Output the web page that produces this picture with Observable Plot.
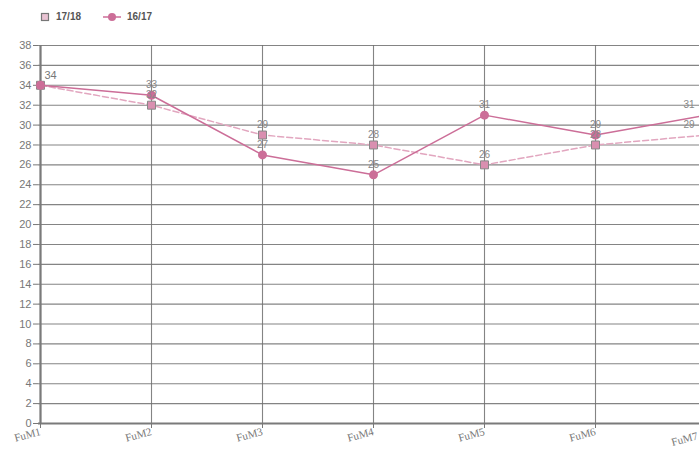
<!DOCTYPE html>
<html><head><meta charset="utf-8">
<script src="https://cdn.jsdelivr.net/npm/d3@7"></script>
<script src="https://cdn.jsdelivr.net/npm/@observablehq/plot@0.6"></script>
<style>
html,body{margin:0;padding:0;background:#fff;overflow:hidden;width:699px;height:450px;}
#legend{height:34px;position:relative;font-family:"Liberation Sans",Arial,sans-serif;font-size:10px;font-weight:bold;color:#555;}
#legend .item{position:absolute;top:11px;display:flex;align-items:center;gap:6px;}
#chart svg{max-width:none !important;}
</style></head>
<body>
<div id="legend"></div>
<div id="chart"></div>
<script>
const categories = ["FuM1","FuM2","FuM3","FuM4","FuM5","FuM6","FuM7"];
const series1718 = [34,32,29,28,26,28,29];
const series1617 = [34,33,27,25,31,29,31];
const seriesNames = ["17/18","16/17"];
const yTicks = d3.range(0, 39, 2);

const colors = {"17/18":"#e2a6bf","16/17":"#cc6e98"};
const lastCat = categories[categories.length - 1];

const rows = [];
categories.forEach((c,i)=>{
  rows.push({cat:c, value:series1718[i], series:"17/18"});
  rows.push({cat:c, value:series1617[i], series:"16/17"});
});
const r1718 = rows.filter(d=>d.series==="17/18");
const r1617 = rows.filter(d=>d.series==="16/17");

// legend
const leg = document.getElementById("legend");
leg.innerHTML = `
<div class="item" style="left:40px"><svg width="10" height="10"><rect x="1.5" y="1.5" width="7" height="7" fill="#e9c3d3" stroke="#777" stroke-width="1.2"/></svg><span>${seriesNames[0]}</span></div>
<div class="item" style="left:103px"><svg width="18" height="10"><line x1="0" y1="5" x2="18" y2="5" stroke="${colors["16/17"]}" stroke-width="1.5"/><circle cx="9" cy="5" r="4" fill="${colors["16/17"]}"/></svg><span>${seriesNames[1]}</span></div>`;

const chart = Plot.plot({
  width: 732,
  height: 416,
  marginLeft: 38,
  marginRight: 24,
  marginTop: 11,
  marginBottom: 27,
  style: {fontFamily: "Liberation Sans, Arial, sans-serif", fontSize: "11px", background: "#fff", overflow: "visible", maxWidth: "none"},
  x: {type: "point", domain: categories, label: null, padding: 0},
  y: {domain: [0, 38], label: null},
  marks: [
    Plot.gridY(yTicks, {stroke: "#6e6e6e", strokeOpacity: 0.85, strokeWidth: 1.1}),
    Plot.gridX(categories, {stroke: "#6e6e6e", strokeOpacity: 0.85, strokeWidth: 1.1}),
    Plot.ruleX([categories[0]], {stroke: "#7a7a7a", strokeWidth: 2.2}),
    Plot.ruleY([0], {stroke: "#7a7a7a", strokeWidth: 2}),
    Plot.axisY({ticks: yTicks, tickSize: 5, tickPadding: 2, stroke: "#777", fill: "#777", fontSize: 11}),
    Plot.axisX({tickSize: 5, tickRotate: -15, tickPadding: 3, stroke: "#777", fill: "#777", fontSize: 11, fontFamily: "Liberation Serif, serif",
      tickFormat: d => d === lastCat ? "" : d}),
    Plot.text([lastCat], {x: d => d, frameAnchor: "bottom", lineAnchor: "top", dy: 8, dx: -10, rotate: -15, textAnchor: "end",
      fill: "#777", fontSize: 11, fontFamily: "Liberation Serif, serif"}),
    Plot.line(r1718, {x: "cat", y: "value", stroke: colors["17/18"], strokeWidth: 1.5, strokeDasharray: "6,3"}),
    Plot.line(r1617, {x: "cat", y: "value", stroke: colors["16/17"], strokeWidth: 1.5}),
    Plot.dot(r1718, {x: "cat", y: "value", symbol: "square", r: 4.5, fill: "#d98fb0", stroke: "#888", strokeWidth: 1}),
    Plot.dot(r1617, {x: "cat", y: "value", symbol: "circle", r: 4.5, fill: colors["16/17"]}),
    Plot.text(rows.filter(d=>d.cat!==categories[0] && d.cat!==lastCat), {x: "cat", y: "value", text: d=>String(d.value), dy: -10, fill: "#888", fontSize: 10}),
    Plot.text(rows.filter(d=>d.cat===lastCat), {x: "cat", y: "value", text: d=>String(d.value), dy: -10, dx: -12, textAnchor: "end", fill: "#888", fontSize: 10}),
    Plot.text([r1617[0]], {x: "cat", y: "value", text: d=>String(d.value), dy: -10, dx: 10, fill: "#777", fontSize: 11})
  ]
});
document.getElementById("chart").appendChild(chart);
</script>
</body></html>
